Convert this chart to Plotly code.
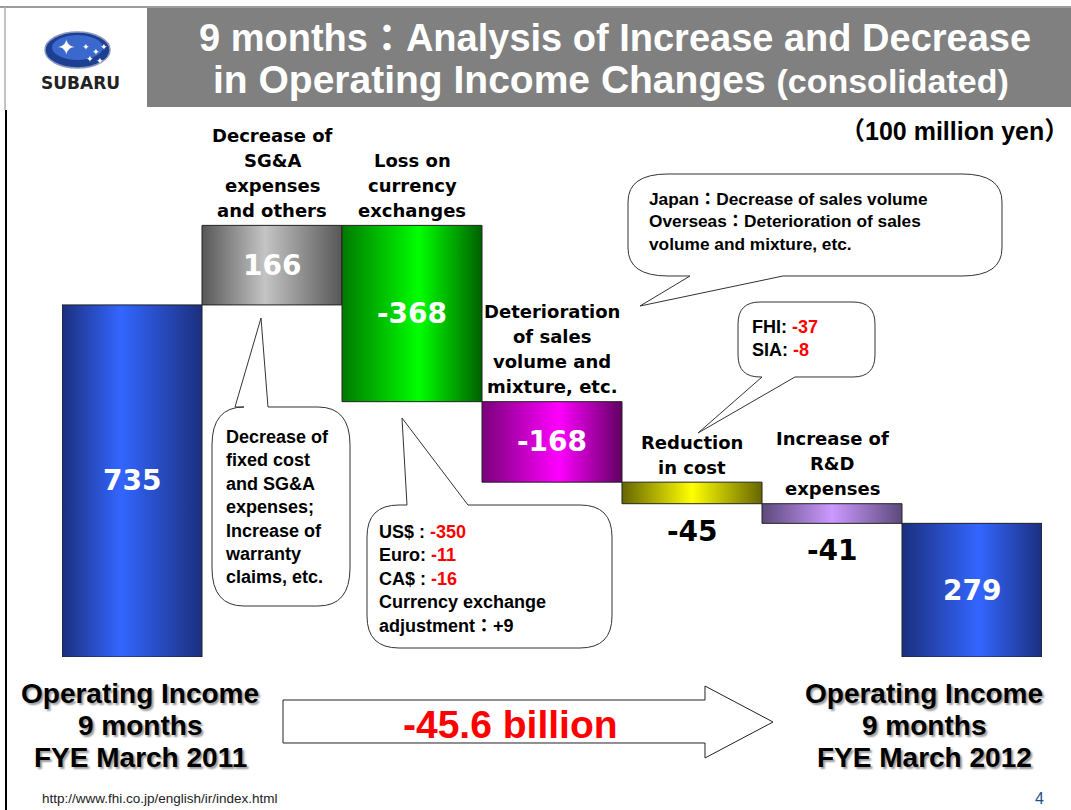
import plotly.graph_objects as go

W, H = 1071, 810

SANS = "Liberation Sans, Arial, Noto Sans CJK JP, sans-serif"
ROUND = "DejaVu Sans, Verdana, sans-serif"

# waterfall data (100 million yen)
stages = ["FYE March 2011", "SG&A and others", "Currency exchanges",
          "Sales volume and mixture", "Reduction in cost", "R&D expenses", "FYE March 2012"]
changes = [735, 166, -368, -168, -45, -41, 279]
is_total = [True, False, False, False, False, False, True]
stage_labels = ["", "Decrease of<br>SG&A<br>expenses<br>and others",
                "Loss on<br>currency<br>exchanges",
                "Deterioration<br>of sales<br>volume and<br>mixture, etc.",
                "Reduction<br>in cost", "Increase of<br>R&D<br>expenses", ""]
value_inside = [True, True, True, True, False, False, True]

gradients = [
    [[0, "#1b2f7e"], [0.42, "#3366ff"], [1, "#1b2f7e"]],
    [[0, "#575757"], [0.45, "#c4c4c4"], [1, "#575757"]],
    [[0, "#007a00"], [0.55, "#00ff00"], [1, "#006000"]],
    [[0, "#7a007a"], [0.55, "#ff00ff"], [1, "#600060"]],
    [[0, "#666600"], [0.5, "#ffff00"], [1, "#666600"]],
    [[0, "#5c4a7c"], [0.5, "#cc99ff"], [1, "#5c4a7c"]],
    [[0, "#1b2f7e"], [0.55, "#3366ff"], [1, "#1b2f7e"]],
]

Y_MAX = 1121


def P(x, y):
    return f"{x / W:.5f},{1 - y / H:.5f}"


def bubble(x0, y0, x1, y1, rx, ry, side, b1, tip, b2):
    d = f"M{P(x0 + rx, y0)}"
    if side == "top":
        d += f" L{P(b1, y0)} L{P(*tip)} L{P(b2, y0)}"
    d += f" L{P(x1 - rx, y0)} Q{P(x1, y0)} {P(x1, y0 + ry)}"
    d += f" L{P(x1, y1 - ry)} Q{P(x1, y1)} {P(x1 - rx, y1)}"
    if side == "bottom":
        d += f" L{P(b2, y1)} L{P(*tip)} L{P(b1, y1)}"
    d += f" L{P(x0 + rx, y1)} Q{P(x0, y1)} {P(x0, y1 - ry)}"
    d += f" L{P(x0, y0 + ry)} Q{P(x0, y0)} {P(x0 + rx, y0)} Z"
    return dict(type="path", xref="paper", yref="paper", path=d,
                fillcolor="white", line=dict(color="#333333", width=1))


def label(x, y, s, size, color="black", family=SANS, xanchor="center",
          yanchor="middle", align="center", weight="bold", shadow=None):
    font = dict(size=size, color=color, family=family, weight=weight)
    if shadow:
        font["shadow"] = shadow
    return dict(x=x / W, y=1 - y / H, xref="paper", yref="paper", text=s,
                showarrow=False, xanchor=xanchor, yanchor=yanchor, align=align,
                font=font)


# cumulative levels
lo, hi = [], []
level = 0
for v, tot in zip(changes, is_total):
    if tot:
        lo.append(0)
        hi.append(v)
        level = v
    else:
        a, b = level, level + v
        lo.append(min(a, b))
        hi.append(max(a, b))
        level = b

fig = go.Figure()
for i, (a, b) in enumerate(zip(lo, hi)):
    fig.add_trace(go.Scatter(
        x=[i - 0.5, i + 0.5, i + 0.5, i - 0.5, i - 0.5],
        y=[a, a, b, b, a],
        mode="lines",
        fill="toself",
        fillgradient=dict(type="horizontal", colorscale=gradients[i]),
        line=dict(color="#222222", width=1),
        name=stages[i],
        hoverinfo="skip",
        showlegend=False,
    ))

annotations = []
for i, v in enumerate(changes):
    if value_inside[i]:
        annotations.append(dict(x=i, y=(lo[i] + hi[i]) / 2, xref="x", yref="y",
                                text=str(v), showarrow=False,
                                font=dict(size=28, color="white", family=ROUND, weight="bold")))
    else:
        annotations.append(dict(x=i, y=lo[i], xref="x", yref="y", yanchor="top", yshift=-9,
                                text=str(v), showarrow=False,
                                font=dict(size=28, color="black", family=ROUND, weight="bold")))
    lines = stage_labels[i].split("<br>") if stage_labels[i] else []
    n = len(lines)
    for k, line in enumerate(lines):
        annotations.append(dict(x=i, y=hi[i], xref="x", yref="y", yanchor="middle",
                                yshift=15 + (n - 1 - k) * 25, text=line, showarrow=False,
                                font=dict(size=18, color="black", family=ROUND, weight="bold")))

RED = "#ff0000"


def red(s):
    return f"<span style='color:{RED}'>{s}</span>"


# title
annotations.append(label(615, 38, "9 months：Analysis of Increase and Decrease", 38, "white"))
annotations.append(label(611, 79, "in Operating Income Changes <span style='font-size:34px'>(consolidated)</span>",
                         39, "white"))
annotations.append(label(1071, 131, "（100 million yen）", 25, xanchor="right"))

# logo
annotations.append(label(66, 48, "✦", 22, "white", family=ROUND))
for sx, sy in [(86, 47), (96, 52), (104, 47), (90, 59), (100, 61)]:
    annotations.append(label(sx, sy, "✦", 9, "white", family=ROUND))
annotations.append(label(80, 83, "SUBARU", 17, "#222222", family=ROUND))

# callout texts
annotations.append(label(223, 425, "Decrease of<br>fixed cost<br>and SG&A<br>expenses;<br>Increase of<br>warranty<br>claims, etc.",
                         18, xanchor="left", yanchor="top", align="left"))
annotations.append(label(377, 520, f"US$ : {red('-350')}<br>Euro: {red('-11')}<br>CA$ : {red('-16')}"
                         "<br>Currency exchange<br>adjustment：+9",
                         18, xanchor="left", yanchor="top", align="left"))
annotations.append(label(647, 187, "Japan：Decrease of sales volume<br>Overseas：Deterioration of sales"
                         "<br>volume and mixture, etc.",
                         17.3, xanchor="left", yanchor="top", align="left"))
annotations.append(label(750, 315, f"FHI: {red('-37')}<br>SIA: {red('-8')}",
                         18, xanchor="left", yanchor="top", align="left"))

# bottom
shadow = "2px 2px 2px #9a9a9a"
for cx, year in [(140, "2011"), (924, "2012")]:
    for k, line in enumerate(["Operating Income", "9 months", f"FYE March {year}"]):
        annotations.append(label(cx, 693 + 32 * k, line, 28, shadow=shadow))
annotations.append(label(510, 724, "-45.6 billion", 39, RED))

annotations.append(label(40, 798, "http://www.fhi.co.jp/english/ir/index.html", 13.5,
                         "#222222", family="Liberation Sans Narrow, Liberation Sans, sans-serif",
                         xanchor="left", weight="normal"))
annotations.append(label(1046, 798, "4", 16, "#1f4e8c", xanchor="right", weight="normal"))

shapes = [
    # frame and title band
    dict(type="line", xref="paper", yref="paper", x0=0, x1=1, y0=1 - 7 / H, y1=1 - 7 / H,
         line=dict(color="#7a7a7a", width=1.5)),
    dict(type="line", xref="paper", yref="paper", x0=5 / W, x1=5 / W, y0=1 - 7 / H, y1=1 - 110 / H,
         line=dict(color="#b0b0b0", width=1.5)),
    dict(type="line", xref="paper", yref="paper", x0=6 / W, x1=6 / W, y0=1 - 110 / H, y1=0,
         line=dict(color="black", width=2)),
    dict(type="rect", xref="paper", yref="paper", x0=147 / W, x1=1, y0=1 - 107 / H, y1=1 - 8 / H,
         fillcolor="#808080", line=dict(width=0), layer="below"),
    # logo oval
    dict(type="circle", xref="paper", yref="paper", x0=45 / W, x1=110 / W, y0=1 - 68 / H, y1=1 - 32 / H,
         fillcolor="#1c3f91", line=dict(color="#8a98c0", width=1.5)),
    dict(type="circle", xref="paper", yref="paper", x0=52 / W, x1=103 / W, y0=1 - 60 / H, y1=1 - 35 / H,
         fillcolor="#3a68cc", line=dict(width=0)),
    # callouts
    bubble(212, 407, 350, 606, 32, 38, "top", 235, (261, 318), 268),
    bubble(367, 505, 612, 648, 32, 32, "top", 407, (402, 418), 468),
    bubble(628, 174, 1002, 276, 40, 28, "bottom", 690, (640, 306), 783),
    bubble(738, 302, 875, 377, 22, 22, "bottom", 762, (698, 433), 795),
    # big arrow
    dict(type="path", xref="paper", yref="paper",
         path=f"M{P(283, 700)} L{P(705, 700)} L{P(705, 686)} L{P(773, 722)} L{P(705, 758)} "
              f"L{P(705, 743)} L{P(283, 743)} Z",
         fillcolor="white", line=dict(color="#222222", width=1)),
]

fig.update_layout(
    width=W, height=H,
    margin=dict(l=0, r=0, t=0, b=0),
    paper_bgcolor="white",
    plot_bgcolor="rgba(0,0,0,0)",
    showlegend=False,
    xaxis=dict(domain=[62 / W, 1042 / W], range=[-0.5, 6.5], visible=False, fixedrange=True),
    yaxis=dict(domain=[1 - 657 / H, 1 - 120 / H], range=[0, Y_MAX], visible=False, fixedrange=True),
    shapes=shapes,
    annotations=annotations,
)

# the page's default body margin would push the slide 8px off
fig.write_html("out.html", config={"displayModeBar": False},
               post_script="document.body.style.margin='0';")
